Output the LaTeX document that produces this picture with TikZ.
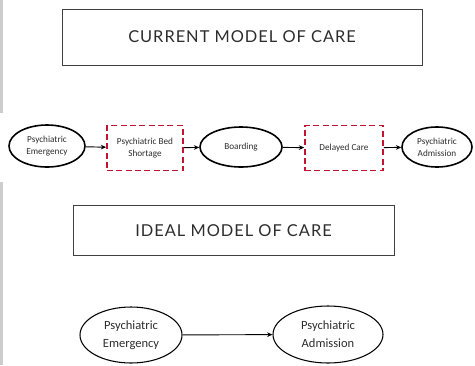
\documentclass[tikz,border=0pt]{standalone}
\usepackage{fontspec}
\setmainfont{Carlito}
\newfontfamily\titlefont[LetterSpace=6]{Lato}
\usetikzlibrary{arrows.meta,shapes.geometric}
\definecolor{txtgray}{RGB}{45,45,45}
\definecolor{boxred}{RGB}{195,20,50}
\definecolor{bargray}{RGB}{205,205,205}

\begin{document}
\begin{tikzpicture}[x=0.75pt,y=-0.75pt,
  titlebox/.style={draw=black!75,line width=0.6pt,text=txtgray,font=\titlefont\fontsize{12.3}{14}\selectfont},
  oval/.style={ellipse,draw,line width=1.2pt,inner sep=0pt,align=center,text=txtgray,font=\fontsize{6.9}{9}\selectfont},
  bigoval/.style={oval,line width=0.8pt,font=\fontsize{9.4}{13.5}\selectfont},
  redbox/.style={draw=boxred,line width=1.3pt,dash pattern=on 4.5pt off 2.5pt,inner sep=0pt,align=center,text=txtgray,font=\fontsize{6.9}{9}\selectfont},
  flow/.style={-{Stealth[length=4pt,width=3.5pt]},line width=0.7pt}]
\useasboundingbox (0,0) rectangle (475,365);
% side bars
\fill[bargray] (0,0) rectangle (3,113);
\fill[bargray] (0,182) rectangle (3,365);
% current model
\node[titlebox,minimum width=270pt,minimum height=42pt] (current) at (242,37) {CURRENT MODEL OF CARE};
\node[oval,minimum width=57pt,minimum height=31.5pt] (emerg) at (47,146) {Psychiatric\\Emergency};
\node[redbox,minimum width=57pt,minimum height=33.75pt] (shortage) at (145,148) {Psychiatric Bed\\Shortage};
\node[oval,minimum width=61.5pt,minimum height=30pt] (boarding) at (241,147) {Boarding};
\node[redbox,minimum width=58.5pt,minimum height=33.75pt] (delayed) at (344,148) {Delayed Care};
\node[oval,minimum width=52.5pt,minimum height=30pt] (admit) at (437,147) {Psychiatric\\Admission};
\draw[flow] (emerg) -- (shortage);
\draw[flow] (shortage) -- (boarding);
\draw[flow] (boarding) -- (delayed);
\draw[flow] (delayed) -- (admit);
% ideal model
\node[titlebox,minimum width=240.75pt,minimum height=37.5pt] (ideal) at (233.5,230.5) {IDEAL MODEL OF CARE};
\node[bigoval,minimum width=76.5pt,minimum height=42pt] (emerg2) at (131,335) {Psychiatric\\Emergency};
\node[bigoval,minimum width=82.5pt,minimum height=42.75pt] (admit2) at (328,334.5) {Psychiatric\\Admission};
\draw[flow] (emerg2) -- (admit2);
\end{tikzpicture}
\end{document}
